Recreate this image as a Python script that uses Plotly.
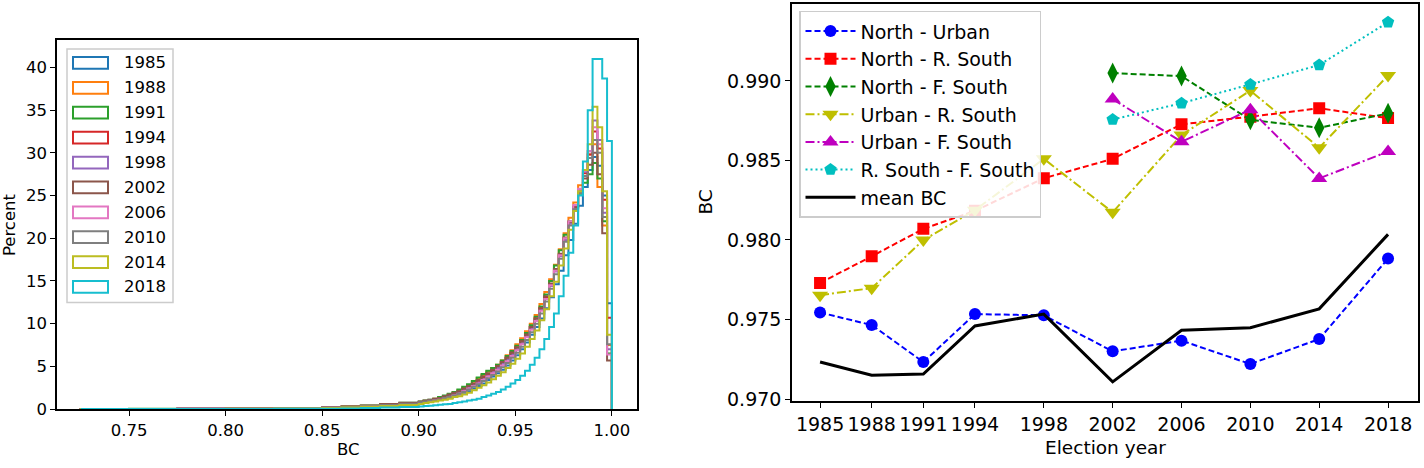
import plotly.graph_objects as go

W, H = 1424, 468

# ---------------- data: left panel (BC distributions, step histograms) ----------------
hist_years = ["1985", "1988", "1991", "1994", "1998", "2002", "2006", "2010", "2014", "2018"]
hist_colors = ["#1f77b4", "#ff7f0e", "#2ca02c", "#d62728", "#9467bd",
               "#8c564b", "#e377c2", "#7f7f7f", "#bcbd22", "#17becf"]

tail_edges = [0.725, 0.75, 0.775, 0.80, 0.825, 0.85, 0.86, 0.87, 0.88, 0.89, 0.90]
main_edges = [round(0.90 + 0.0025 * i, 4) for i in range(41)]

tail_1985 = [0.01, 0.02, 0.03, 0.05, 0.08, 0.14, 0.22, 0.32, 0.45, 0.55]
tail_1988 = [0.02, 0.02, 0.03, 0.05, 0.09, 0.16, 0.26, 0.36, 0.50, 0.65]
tail_1991 = [0.02, 0.03, 0.04, 0.06, 0.10, 0.18, 0.30, 0.42, 0.58, 0.75]
tail_1994 = [0.02, 0.02, 0.03, 0.05, 0.09, 0.16, 0.26, 0.36, 0.50, 0.65]
tail_1998 = [0.01, 0.02, 0.03, 0.05, 0.08, 0.15, 0.24, 0.34, 0.48, 0.60]
tail_2002 = [0.02, 0.02, 0.04, 0.06, 0.12, 0.20, 0.30, 0.42, 0.58, 0.75]
tail_2006 = [0.01, 0.02, 0.03, 0.05, 0.08, 0.14, 0.22, 0.32, 0.45, 0.55]
tail_2010 = [0.02, 0.02, 0.03, 0.05, 0.08, 0.15, 0.24, 0.34, 0.48, 0.62]
tail_2014 = [0.01, 0.02, 0.02, 0.04, 0.07, 0.12, 0.18, 0.26, 0.36, 0.48]
tail_2018 = [0.00, 0.01, 0.01, 0.02, 0.03, 0.05, 0.08, 0.12, 0.18, 0.25]

dens_1985 = [0.7, 0.8, 0.9, 1.0, 1.1, 1.2, 1.3, 1.5, 1.7, 1.9,
             2.1, 2.4, 2.7, 3.0, 3.4, 3.8, 4.2, 4.6, 5.1, 5.7,
             6.3, 7.0, 7.8, 8.7, 9.6, 10.6, 11.8, 13.1, 14.6, 16.2,
             18.0, 19.8, 21.7, 23.8, 26.0, 28.0, 29.5, 28.5, 25.0, 12.4]
dens_1988 = [0.8, 0.9, 1.0, 1.2, 1.3, 1.5, 1.7, 1.9, 2.2, 2.5,
             2.8, 3.2, 3.6, 4.0, 4.4, 4.8, 5.2, 5.7, 6.3, 6.9,
             7.6, 8.3, 9.1, 10.0, 11.0, 12.3, 13.7, 15.2, 16.9, 18.7,
             20.6, 22.4, 24.2, 26.2, 28.0, 29.8, 31.0, 26.0, 21.5, 7.5]
dens_1991 = [0.9, 1.0, 1.1, 1.2, 1.4, 1.6, 1.8, 2.0, 2.3, 2.6,
             2.9, 3.3, 3.7, 4.1, 4.5, 4.8, 5.2, 5.7, 6.2, 6.8,
             7.4, 8.1, 8.9, 9.8, 10.8, 12.0, 13.4, 15.0, 16.8, 18.6,
             20.4, 22.0, 23.6, 25.2, 26.5, 27.5, 28.8, 27.0, 22.0, 6.5]
dens_1994 = [0.8, 0.9, 1.0, 1.1, 1.3, 1.4, 1.6, 1.8, 2.0, 2.3,
             2.6, 2.9, 3.3, 3.7, 4.1, 4.5, 5.0, 5.5, 6.0, 6.6,
             7.2, 7.9, 8.7, 9.6, 10.6, 11.8, 13.1, 14.6, 16.3, 18.1,
             20.0, 21.9, 23.7, 25.6, 27.6, 29.8, 32.5, 30.5, 24.5, 10.7]
dens_1998 = [0.8, 0.9, 1.0, 1.1, 1.2, 1.4, 1.5, 1.7, 1.9, 2.2,
             2.5, 2.8, 3.1, 3.5, 3.9, 4.3, 4.8, 5.3, 5.8, 6.4,
             7.0, 7.7, 8.5, 9.4, 10.4, 11.6, 12.9, 14.4, 16.1, 17.9,
             19.8, 21.7, 23.6, 25.6, 27.8, 30.2, 33.8, 31.5, 23.0, 7.0]
dens_2002 = [0.9, 1.0, 1.1, 1.2, 1.3, 1.5, 1.7, 1.9, 2.1, 2.4,
             2.7, 3.0, 3.4, 3.8, 4.2, 4.6, 5.0, 5.5, 6.0, 6.6,
             7.2, 7.9, 8.7, 9.6, 10.6, 11.8, 13.2, 14.7, 16.4, 18.2,
             20.1, 21.9, 23.6, 25.4, 27.0, 28.6, 30.0, 27.5, 20.6, 5.7]
dens_2006 = [0.7, 0.8, 0.9, 1.0, 1.1, 1.3, 1.4, 1.6, 1.8, 2.1,
             2.4, 2.7, 3.0, 3.4, 3.8, 4.2, 4.6, 5.1, 5.6, 6.2,
             6.9, 7.6, 8.4, 9.3, 10.3, 11.5, 12.9, 14.5, 16.2, 18.0,
             20.0, 22.0, 23.9, 25.8, 27.9, 30.2, 33.0, 31.0, 23.5, 6.4]
dens_2010 = [0.8, 0.9, 1.0, 1.0, 1.1, 1.3, 1.4, 1.6, 1.8, 2.0,
             2.3, 2.6, 2.9, 3.3, 3.6, 4.0, 4.4, 4.9, 5.4, 6.0,
             6.6, 7.3, 8.1, 9.0, 10.0, 11.2, 12.6, 14.1, 15.8, 17.6,
             19.6, 21.5, 23.4, 25.3, 27.3, 29.4, 31.5, 30.0, 22.5, 7.6]
dens_2014 = [0.6, 0.7, 0.8, 0.9, 1.0, 1.1, 1.2, 1.4, 1.5, 1.7,
             1.9, 2.2, 2.5, 2.8, 3.1, 3.5, 3.9, 4.3, 4.8, 5.3,
             5.9, 6.5, 7.3, 8.2, 9.2, 10.4, 11.7, 13.2, 14.9, 16.8,
             18.8, 21.0, 23.2, 25.5, 28.0, 31.0, 35.4, 33.0, 25.5, 8.7]
dens_2018 = [0.3, 0.35, 0.4, 0.45, 0.5, 0.55, 0.6, 0.7, 0.8, 0.9,
             1.0, 1.1, 1.2, 1.4, 1.6, 1.8, 2.0, 2.3, 2.6, 3.0,
             3.4, 3.9, 4.5, 5.2, 6.0, 7.0, 8.2, 9.6, 11.2, 13.2,
             15.6, 18.3, 21.5, 25.0, 29.0, 35.0, 41.0, 41.0, 38.7, 31.4]

tails = [tail_1985, tail_1988, tail_1991, tail_1994, tail_1998,
         tail_2002, tail_2006, tail_2010, tail_2014, tail_2018]
dens = [dens_1985, dens_1988, dens_1991, dens_1994, dens_1998,
        dens_2002, dens_2006, dens_2010, dens_2014, dens_2018]

# ---------------- data: right panel (BC between regions) ----------------
election_years = [1985, 1988, 1991, 1994, 1998, 2002, 2006, 2010, 2014, 2018]
north_urban = [0.97544, 0.97465, 0.97232, 0.97534, 0.97526, 0.97300, 0.97367, 0.97220, 0.97377, 0.97883]
north_rsouth = [0.97730, 0.97897, 0.98070, 0.98183, 0.98388, 0.98510, 0.98727, 0.98775, 0.98828, 0.98766]
north_fsouth = [None, None, None, None, None, 0.99049, 0.99030, 0.98755, 0.98705, 0.98796]
urban_rsouth = [0.97653, 0.97697, 0.97999, 0.98187, 0.98510, 0.98174, 0.98660, 0.98939, 0.98580, 0.99034]
urban_fsouth = [None, None, None, None, None, 0.98886, 0.98617, 0.98819, 0.98387, 0.98556]
rsouth_fsouth = [None, None, None, None, None, 0.98757, 0.98860, 0.98978, 0.99100, 0.99369]
mean_bc = [0.97233, 0.97149, 0.97157, 0.97459, 0.97534, 0.97108, 0.97432, 0.97448, 0.97567, 0.98035]

pair_names = ["North - Urban", "North - R. South", "North - F. South",
              "Urban - R. South", "Urban - F. South", "R. South - F. South"]
pair_values = [north_urban, north_rsouth, north_fsouth, urban_rsouth, urban_fsouth, rsouth_fsouth]

# ---------------- figure ----------------
def fx(px):
    return px / W


def fy(py):
    return 1 - py / H


fig = go.Figure()
FONT = "DejaVu Sans"

# left: step histograms
for name, col, tv, dv in zip(hist_years, hist_colors, tails, dens):
    edges = tail_edges + main_edges[1:]
    vals = tv + dv
    xs = [edges[0]] + edges
    ys = [0] + vals + [0]
    fig.add_trace(go.Scatter(x=xs, y=ys, mode="lines", line=dict(color=col, width=2, shape="hv"),
                             name=name, showlegend=False, xaxis="x", yaxis="y", hoverinfo="skip"))

# right: lines
styles = [
    dict(color="#0000ff", dash="6px,3px", symbol="circle", size=12),
    dict(color="#ff0000", dash="6px,3px", symbol="square", size=12),
    dict(color="#008000", dash="6px,3px", symbol="diamond-tall", size=15),
    dict(color="#bfbf00", dash="9px,3px,2px,3px", symbol="triangle-down", size=14),
    dict(color="#bf00bf", dash="9px,3px,2px,3px", symbol="triangle-up", size=14),
    dict(color="#00bfbf", dash="2px,3px", symbol="pentagon", size=13),
]
for name, vals, st in zip(pair_names, pair_values, styles):
    fig.add_trace(go.Scatter(x=election_years, y=vals, mode="lines+markers", name=name,
                             line=dict(color=st["color"], width=2, dash=st["dash"]),
                             marker=dict(color=st["color"], symbol=st["symbol"], size=st["size"]),
                             xaxis="x2", yaxis="y2"))
fig.add_trace(go.Scatter(x=election_years, y=mean_bc, mode="lines", name="mean BC",
                         line=dict(color="black", width=3), xaxis="x2", yaxis="y2"))

axc = dict(showline=True, linecolor="black", linewidth=1.5, mirror=True, ticks="outside",
           ticklen=5, tickwidth=1.3, tickcolor="black", showgrid=False, zeroline=False)

fig.update_layout(
    width=W, height=H, margin=dict(l=0, r=0, t=0, b=0),
    plot_bgcolor="white", paper_bgcolor="white",
    font=dict(family=FONT, color="black"),
    xaxis=dict(domain=[fx(57), fx(637)], range=[0.7127, 1.013], anchor="y",
               tickvals=[0.75, 0.80, 0.85, 0.90, 0.95, 1.00],
               ticktext=["0.75", "0.80", "0.85", "0.90", "0.95", "1.00"],
               tickfont=dict(size=16.5), **axc),
    yaxis=dict(domain=[fy(418), fy(41)], range=[0, 43.2], anchor="x",
               tickvals=[0, 5, 10, 15, 20, 25, 30, 35, 40],
               tickfont=dict(size=16.5), **axc),
    xaxis2=dict(domain=[fx(792), fx(1418)], range=[1983.37, 2019.74], anchor="y2",
                tickvals=election_years, ticktext=[str(y) for y in election_years],
                tickfont=dict(size=19), **axc),
    yaxis2=dict(domain=[fy(410), fy(4)], range=[0.96986, 0.99484], anchor="x2",
                tickvals=[0.970, 0.975, 0.980, 0.985, 0.990],
                ticktext=["0.970", "0.975", "0.980", "0.985", "0.990"],
                tickfont=dict(size=19), **axc),
    legend=dict(x=fx(799), y=fy(11), xanchor="left", yanchor="top",
                bgcolor="rgba(255,255,255,0.85)", bordercolor="#cccccc", borderwidth=1.5,
                font=dict(size=19, family=FONT), itemwidth=50),
)

# axis titles
ann = [
    dict(text="Percent", x=fx(9), y=fy(230), textangle=-90, font=dict(size=16.5)),
    dict(text="BC", x=fx(348), y=fy(459), font=dict(size=16.5)),
    dict(text="Election year", x=fx(1105), y=fy(457), font=dict(size=18.5)),
    dict(text="BC", x=fx(706), y=fy(207), textangle=-90, font=dict(size=18.5)),
]
shapes = []
# left manual legend (outline patches, as in a step histogram legend)
shapes.append(dict(type="rect", xref="paper", yref="paper", x0=fx(67), x1=fx(173), y0=fy(309), y1=fy(50),
                   line=dict(color="#cccccc", width=1.5), fillcolor="rgba(255,255,255,0.85)"))
for i, (name, col) in enumerate(zip(hist_years, hist_colors)):
    cy = 64.3 + 25.44 * i
    shapes.append(dict(type="rect", xref="paper", yref="paper", x0=fx(73), x1=fx(108),
                       y0=fy(cy + 6), y1=fy(cy - 6), line=dict(color=col, width=2)))
    ann.append(dict(text=name, x=fx(122), y=fy(cy), xanchor="left", font=dict(size=16.5)))

for a in ann:
    a.setdefault("xref", "paper")
    a.setdefault("yref", "paper")
    a.setdefault("showarrow", False)
    a.setdefault("xanchor", "center")
    a.setdefault("yanchor", "middle")
fig.update_layout(annotations=ann, shapes=shapes)

fig.write_html("out.html", config={"displayModeBar": False},
               post_script="document.body.style.margin='0px';document.body.style.overflow='hidden';")
